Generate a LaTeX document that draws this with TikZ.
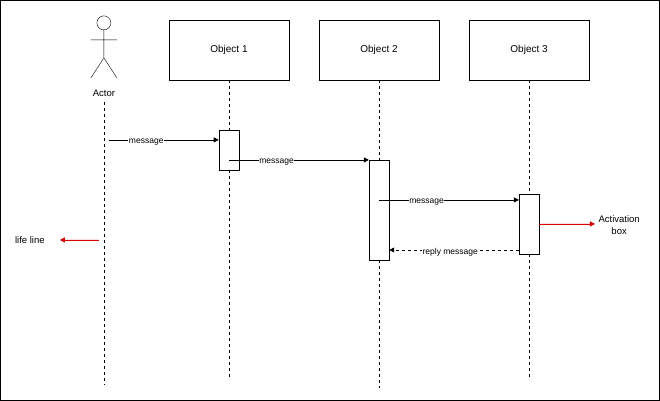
\documentclass[tikz,border=0pt]{standalone}
\usepackage{fontspec}
\setmainfont{Liberation Sans}
\usetikzlibrary{arrows.meta}
\begin{document}
\begin{tikzpicture}[x=1pt,y=-1pt,
  obj/.style={draw,minimum width=120pt,minimum height=60pt,font=\fontsize{10}{12}\selectfont},
  act/.style={draw,fill=white,minimum width=20pt,anchor=north},
  life/.style={dashed,line width=0.5pt},
  msg/.style={-{Triangle[length=5pt,width=5pt]},line width=0.6pt},
  lbl/.style={fill=white,inner sep=0.5pt,yshift=-2.5pt,font=\fontsize{8.5}{10}\selectfont},
  red/.style={draw=red!85!black,-{Triangle[length=5pt,width=5pt]},line width=0.8pt,fill=red!85!black},
  txt/.style={font=\fontsize{9.5}{12}\selectfont,align=center}]
\draw[line width=0.7pt] (0.5,0.5) rectangle (659.5,400.5);
% actor
\draw (104,23) circle (7);
\draw (104,30) -- (104,58) (91,40) -- (117,40) (104,58) -- (91,78) (104,58) -- (117,78);
\node[txt] (actor) at (104,93) {Actor};
\coordinate (a0) at (104,102); \coordinate (a1) at (104,385);
\draw[life] (a0) -- (a1);
% objects
\node[obj] (o1) at (229,50) {Object 1};
\node[obj] (o2) at (379,50) {Object 2};
\node[obj] (o3) at (529,50) {Object 3};
\coordinate (e1) at (229,378); \coordinate (e2) at (379,388); \coordinate (e3) at (529,380);
\draw[life] (o1.south) -- (e1);
\draw[life] (o2.south) -- (e2);
\draw[life] (o3.south) -- (e3);
% activations
\node[act,minimum height=40pt] (b1) at (229,130) {};
\node[act,minimum height=100pt] (b2) at (379,160) {};
\node[act,minimum height=60pt] (b3) at (529,194) {};
% messages
\coordinate (m1s) at (109,140);
\draw[msg] (m1s) -- (b1.west |- m1s) node[lbl,pos=0.34] {message};
\coordinate (m2s) at (229,160);
\draw[msg] (m2s) -- (b2.west |- m2s) node[lbl,pos=0.34] {message};
\coordinate (m3s) at (379,200);
\draw[msg] (m3s) -- (b3.west |- m3s) node[lbl,pos=0.34] {message};
\coordinate (r1) at (519,250);
\draw[msg,dashed] (r1) -- (b2.east |- r1) node[lbl,pos=0.53] {reply message};
% annotations
\node[txt] (abox) at (619,225) {Activation\\box};
\coordinate (ra) at (539,224);
\draw[red] (ra) -- (abox.west |- ra);
\node[txt] (ll) at (30,240) {life line};
\coordinate (rl) at (99,240);
\draw[red] (rl) -- (60,240);
\end{tikzpicture}
\end{document}
